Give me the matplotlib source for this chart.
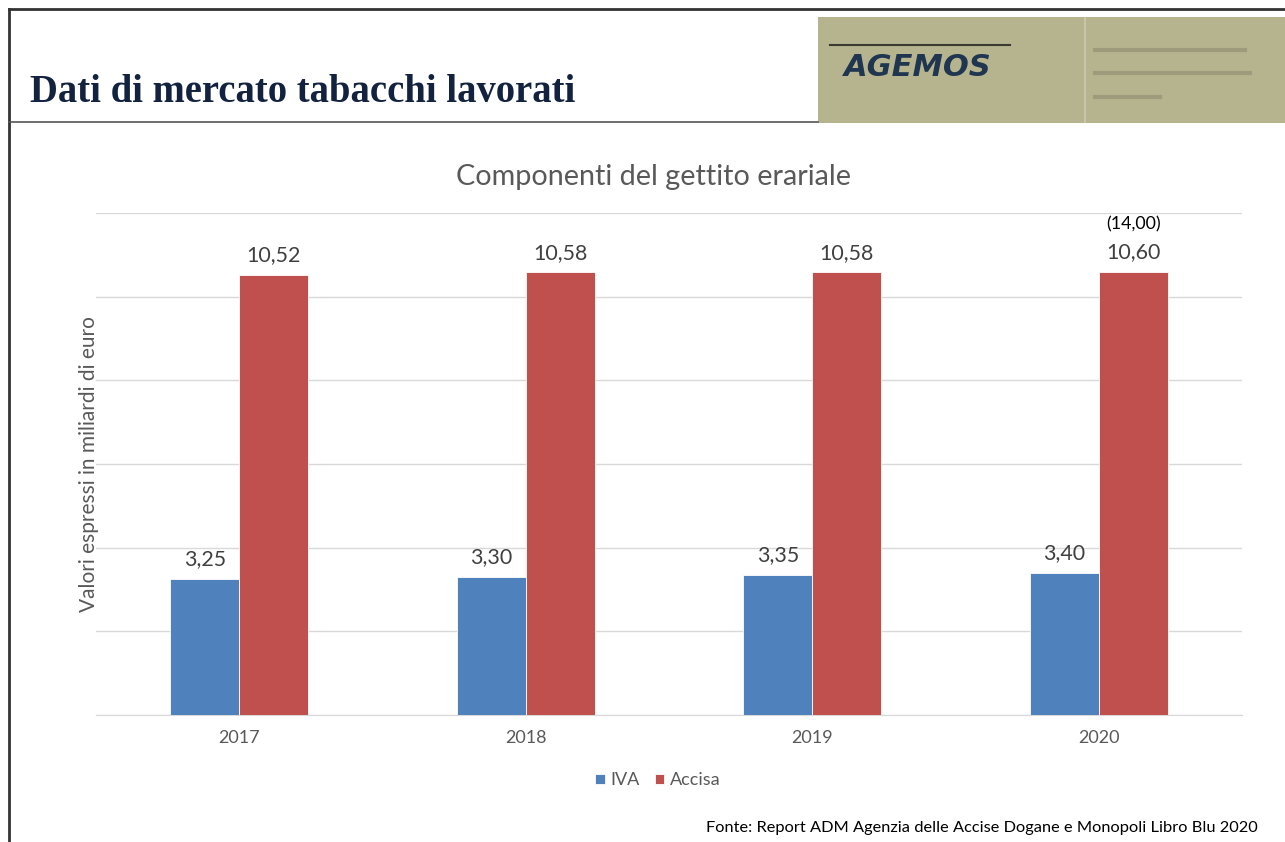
import numpy as np
import matplotlib.pyplot as plt
from matplotlib.patches import Rectangle
from matplotlib.lines import Line2D

anni = ["2017", "2018", "2019", "2020"]
iva = [3.25, 3.30, 3.35, 3.40]
accisa = [10.52, 10.58, 10.58, 10.60]
nota_2020 = "(14,00)"

W, H = 1285, 842
fig = plt.figure(figsize=(W / 100, H / 100), dpi=100)

def fx(px):
    return px / W

def fy(py):
    return 1 - py / H

# cornice della slide
fig.add_artist(Line2D([fx(9), 1], [fy(9), fy(9)], color="#333333", lw=2))
fig.add_artist(Line2D([fx(9), fx(9)], [fy(9), 0], color="#333333", lw=2))
fig.add_artist(Line2D([fx(9), fx(818)], [fy(122), fy(122)], color="#555555", lw=1.2))

fig.text(fx(30), fy(92), "Dati di mercato tabacchi lavorati", fontsize=27.8,
         fontweight="bold", family="Liberation Serif",
         color="#13233f", va="center", ha="left")

# logo (sfondo)
fig.add_artist(Rectangle((fx(818), fy(123)), fx(467), fy(17) - fy(123),
                         transform=fig.transFigure, facecolor="#b6b38f", edgecolor="none"))
fig.add_artist(Line2D([fx(1085), fx(1085)], [fy(18), fy(122)], color="#c9c6a8", lw=1.5))
fig.add_artist(Line2D([fx(830), fx(1010)], [fy(45), fy(45)], color="#3a3a30", lw=1.5))
fig.text(fx(918), fy(68), "AGEMOS", fontsize=22, fontweight="bold", style="italic",
         family="DejaVu Sans", color="#1f3550", ha="center", va="center")
for y0, x1 in [(50, 1245), (73, 1250), (97, 1160)]:
    fig.add_artist(Line2D([fx(1095), fx(x1)], [fy(y0), fy(y0)], color="#8f8c70", lw=3, alpha=0.6))

ax = fig.add_axes([fx(96), fy(715), fx(1242) - fx(96), fy(213) - fy(715)])
x = np.arange(len(anni))
w = 0.24
b1 = ax.bar(x - w / 2, iva, w, color="#4f81bd", edgecolor="white", lw=0.6, label="IVA", zorder=3)
b2 = ax.bar(x + w / 2, accisa, w, color="#c0504d", edgecolor="white", lw=0.6, label="Accisa", zorder=3)

lab = [f"{v:.2f}".replace(".", ",") for v in iva]
ax.bar_label(b1, labels=lab, padding=7, fontsize=15.4, color="#404040", family="Lato")
lab = [f"{v:.2f}".replace(".", ",") for v in accisa]
ax.bar_label(b2, labels=lab, padding=7, fontsize=15.4, color="#404040", family="Lato")
ax.annotate(nota_2020, (x[-1] + w / 2, accisa[-1]), xytext=(0, 28), textcoords="offset points",
            ha="center", va="bottom", fontsize=12.8, color="black", family="Lato")

ax.set_xlim(-0.5, len(anni) - 0.5)
ax.set_ylim(0, 12)
ax.set_yticks(np.arange(0, 13, 2))
ax.set_yticklabels([])
ax.tick_params(axis="y", length=0)
ax.tick_params(axis="x", length=0, pad=11, labelsize=13, labelcolor="#595959")
ax.set_xticks(x)
ax.set_xticklabels(anni, family="Lato")
ax.grid(axis="y", color="#d9d9d9", lw=1, zorder=0)
for s in ["top", "right", "left"]:
    ax.spines[s].set_visible(False)
ax.spines["bottom"].set_color("#d9d9d9")

ax.set_ylabel("Valori espressi in miliardi di euro", fontsize=15, color="#595959",
              family="Lato", labelpad=-6)
fig.text(fx(653), fy(177), "Componenti del gettito erariale", fontsize=20.7, color="#595959",
         family="Lato", ha="center", va="center")

ax.legend(loc="upper center", bbox_to_anchor=(0.49, -0.082), ncol=2, frameon=False,
          prop={"family": "Lato", "size": 13}, labelcolor="#595959",
          handlelength=0.55, handleheight=0.55, handletextpad=0.3, columnspacing=0.85)

fig.text(fx(1258), fy(828), "Fonte: Report ADM Agenzia delle Accise Dogane e Monopoli Libro Blu 2020",
         fontsize=11.8, color="black", family="Lato", ha="right", va="center")

fig.savefig("out.png", dpi=100)
